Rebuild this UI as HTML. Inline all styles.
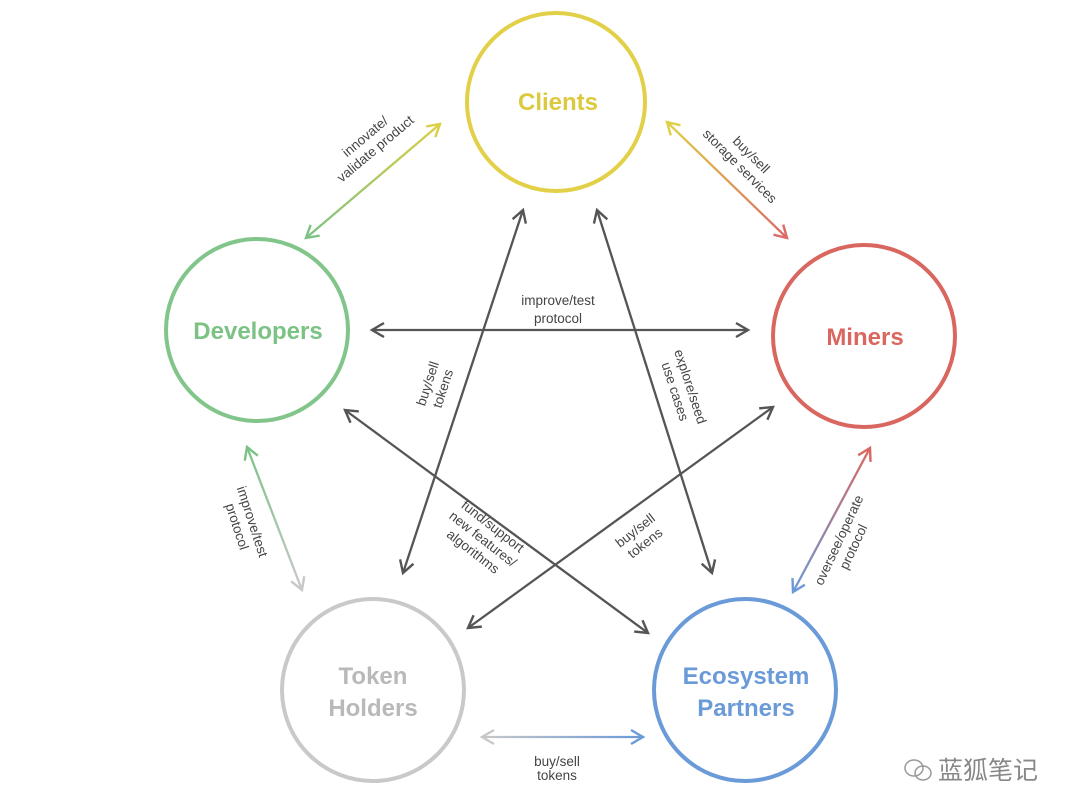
<!DOCTYPE html>
<html><head><meta charset="utf-8"><style>
html,body{margin:0;padding:0;background:#fff;}
svg{display:block;}
text{font-family:"Liberation Sans","Noto Sans CJK SC",sans-serif;}
.n{font-weight:bold;font-size:24px;text-anchor:middle;}
.l{font-size:13.5px;fill:#444;text-anchor:middle;}
</style></head><body>
<svg id="s" width="1080" height="787" viewBox="0 0 1080 787" xmlns="http://www.w3.org/2000/svg">
<defs>
<linearGradient id="gCD" gradientUnits="userSpaceOnUse" x1="440" y1="124" x2="306" y2="238"><stop offset="0" stop-color="#dccf45"/><stop offset="1" stop-color="#7cc285"/></linearGradient>
<linearGradient id="gCM" gradientUnits="userSpaceOnUse" x1="667" y1="122" x2="787" y2="238"><stop offset="0" stop-color="#dfcf45"/><stop offset="1" stop-color="#dc6a66"/></linearGradient>
<linearGradient id="gDT" gradientUnits="userSpaceOnUse" x1="247" y1="447" x2="302" y2="590"><stop offset="0" stop-color="#7cc285"/><stop offset="1" stop-color="#c8c8c8"/></linearGradient>
<linearGradient id="gME" gradientUnits="userSpaceOnUse" x1="870" y1="448" x2="793" y2="592"><stop offset="0" stop-color="#d9675f"/><stop offset="1" stop-color="#6a9ad8"/></linearGradient>
<linearGradient id="gTE" gradientUnits="userSpaceOnUse" x1="482" y1="737" x2="643" y2="737"><stop offset="0" stop-color="#c8c8c8"/><stop offset="1" stop-color="#6a9ad8"/></linearGradient>
</defs>
<g fill="none" stroke-width="4">
<circle cx="556" cy="102" r="89" stroke="#e2d048"/>
<circle cx="257" cy="330" r="91" stroke="#82c58a"/>
<circle cx="864" cy="336" r="91" stroke="#d9675f"/>
<circle cx="373" cy="690" r="91" stroke="#c9c9c9"/>
<circle cx="745" cy="690" r="91" stroke="#6a9ad8"/>
</g>
<text class="n" x="558" y="110" fill="#dcc93e">Clients</text>
<text class="n" x="258" y="339" fill="#7cc285">Developers</text>
<text class="n" x="865" y="345" fill="#d9675f">Miners</text>
<text class="n" x="373" y="684" fill="#b9b9b9">Token</text>
<text class="n" x="373" y="716" fill="#b9b9b9">Holders</text>
<text class="n" x="746" y="684" fill="#6a9ad8">Ecosystem</text>
<text class="n" x="746" y="716" fill="#6a9ad8">Partners</text>
<g id="arrows"></g>
<text class="l" x="558" y="305">improve/test</text>
<text class="l" x="558" y="323">protocol</text>
<g transform="translate(368,140) rotate(-40)"><text class="l" x="0" y="0">innovate/</text><text class="l" x="0" y="16">validate product</text></g>
<g transform="translate(748,158) rotate(45)"><text class="l" x="0" y="0">buy/sell</text><text class="l" x="0" y="16">storage services</text></g>
<g transform="translate(432,385) rotate(-72)"><text class="l" x="0" y="0">buy/sell</text><text class="l" x="0" y="16">tokens</text></g>
<g transform="translate(686,388) rotate(72)"><text class="l" x="0" y="0">explore/seed</text><text class="l" x="0" y="16">use cases</text></g>
<g transform="translate(490,530) rotate(38)"><text class="l" x="0" y="0">fund/support</text><text class="l" x="0" y="16">new features/</text><text class="l" x="0" y="32">algorithms</text></g>
<g transform="translate(638,534) rotate(-38)"><text class="l" x="0" y="0">buy/sell</text><text class="l" x="0" y="16">tokens</text></g>
<g transform="translate(248,523) rotate(72)"><text class="l" x="0" y="0">improve/test</text><text class="l" x="0" y="16">protocol</text></g>
<g transform="translate(843,542) rotate(-65)"><text class="l" x="0" y="0">oversee/operate</text><text class="l" x="0" y="16">protocol</text></g>
<text class="l" x="557" y="766">buy/sell</text>
<text class="l" x="557" y="780">tokens</text>
<g transform="translate(914,768)" fill="none" stroke="#999" stroke-width="1.5"><ellipse cx="0" cy="0" rx="9" ry="8"/><ellipse cx="9" cy="5" rx="8" ry="7"/></g>
<text x="938" y="779" font-size="25" fill="#888" style="font-family:'Noto Sans CJK SC',sans-serif">蓝狐笔记</text>
</svg>
<script>
var g=document.getElementById('arrows');
function head(x,y,fx,fy,c){var dx=x-fx,dy=y-fy,L=Math.hypot(dx,dy);dx/=L;dy/=L;var s=12,w=7;
var p=document.createElementNS('http://www.w3.org/2000/svg','path');
p.setAttribute('d','M'+(x-dx*s-dy*w)+','+(y-dy*s+dx*w)+' L'+x+','+y+' L'+(x-dx*s+dy*w)+','+(y-dy*s-dx*w));
p.setAttribute('stroke',c);p.setAttribute('fill','none');p.setAttribute('stroke-width','2.4');g.appendChild(p);}
function arr(x1,y1,x2,y2,stroke,c1,c2){var l=document.createElementNS('http://www.w3.org/2000/svg','line');
l.setAttribute('x1',x1);l.setAttribute('y1',y1);l.setAttribute('x2',x2);l.setAttribute('y2',y2);
l.setAttribute('stroke',stroke);l.setAttribute('stroke-width','2.3');g.appendChild(l);
head(x1,y1,x2,y2,c1);head(x2,y2,x1,y1,c2);}
var d='#555';
arr(440,124,306,238,'url(#gCD)','#dccf45','#7cc285');
arr(667,122,787,238,'url(#gCM)','#dfcf45','#dc6a66');
arr(372,330,748,330,d,d,d);
arr(523,210,403,573,d,d,d);
arr(597,210,712,573,d,d,d);
arr(345,410,648,633,d,d,d);
arr(773,407,468,628,d,d,d);
arr(247,447,302,590,'url(#gDT)','#7cc285','#c8c8c8');
arr(870,448,793,592,'url(#gME)','#d9675f','#6a9ad8');
arr(482,737,643,737,'url(#gTE)','#c8c8c8','#6a9ad8');
</script>
</body></html>
